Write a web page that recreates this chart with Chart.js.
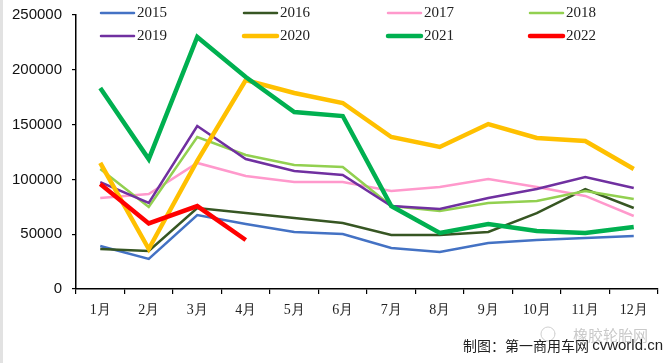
<!DOCTYPE html>
<html>
<head>
<meta charset="utf-8">
<script src="https://cdn.jsdelivr.net/npm/chart.js@4/dist/chart.umd.min.js"></script>
<style>
html,body{margin:0;padding:0;background:#fff;}
#wrap{width:672px;height:363px;position:relative;}
</style>
</head>
<body>
<div id="wrap"><canvas id="c" width="672" height="363"></canvas></div>
<script>
const months = ['1月','2月','3月','4月','5月','6月','7月','8月','9月','10月','11月','12月'];
const yTicks = [0, 50000, 100000, 150000, 200000, 250000];
const s2015 = [39200, 27400, 67500, 59300, 52000, 50200, 37400, 33800, 42000, 44700, 46500, 48400];
const s2016 = [36500, 34700, 73900, 69300, 64800, 60200, 49300, 49300, 52000, 69300, 91200, 73900];
const s2017 = [83000, 86700, 115000, 103100, 97600, 97600, 89400, 93100, 100400, 93100, 84900, 66600];
const s2018 = [109500, 74800, 138700, 122300, 113100, 111300, 75700, 71200, 78500, 80300, 89400, 82100];
const s2019 = [97600, 78500, 148700, 118600, 107700, 104000, 75700, 73000, 83000, 91200, 102200, 92200];
const s2020 = [115000, 36500, 117000, 190700, 178800, 169700, 138700, 129600, 150500, 137800, 135000, 109500];
const s2021 = [183400, 118500, 229900, 193400, 161500, 157800, 75700, 51100, 59300, 52900, 51100, 56600];
const s2022 = [95800, 59800, 75700, 44700];
const seriesNames = ['2015','2016','2017','2018','2019','2020','2021','2022'];
const seriesData = [s2015, s2016, s2017, s2018, s2019, s2020, s2021, s2022];
const seriesColors = ['#4472C4','#375623','#FF99CC','#92D050','#7030A0','#FFC000','#00B050','#FF0000'];
const seriesWidths = [2.5, 2.5, 2.5, 2.5, 2.5, 4.5, 4.5, 4.5];

const datasets = seriesNames.map((n, i) => ({
  label: n,
  data: seriesData[i],
  borderColor: seriesColors[i],
  backgroundColor: seriesColors[i],
  borderWidth: seriesWidths[i],
  pointRadius: 0,
  tension: 0,
  fill: false,
  order: seriesNames.length - i
}));

const customLegend = {
  id: 'customLegend',
  afterDraw(chart) {
    const ctx = chart.ctx;
    const colX = [100, 243, 387, 529];
    const rowY = [13, 36];
    ctx.save();
    chart.data.datasets.forEach((ds, i) => {
      const col = i % 4, row = Math.floor(i / 4);
      const x = colX[col], y = rowY[row];
      ctx.strokeStyle = ds.borderColor;
      ctx.lineWidth = ds.borderWidth;
      ctx.lineCap = 'round';
      ctx.beginPath();
      ctx.moveTo(x + 1, y);
      ctx.lineTo(x + 34, y);
      ctx.stroke();
      ctx.fillStyle = '#222';
      ctx.font = '15px "Liberation Serif"';
      ctx.textBaseline = 'middle';
      ctx.textAlign = 'left';
      ctx.fillText(ds.label, x + 37, y + 0.5);
    });
    ctx.textAlign = 'left';
    ctx.fillStyle = '#c9c9c9';
    ctx.font = '15px "Noto Sans CJK SC"';
    ctx.fillText('橡胶轮胎网', 573, 335);
    ctx.strokeStyle = '#d0d0d0';
    ctx.lineWidth = 1;
    ctx.beginPath();
    ctx.arc(548, 334, 7, 0, Math.PI * 2);
    ctx.stroke();
    ctx.fillStyle = '#222';
    ctx.textAlign = 'right';
    ctx.font = '15px "Liberation Sans"';
    const t2 = 'cvworld.cn';
    ctx.fillText(t2, 663, 346);
    const w2 = ctx.measureText(t2).width;
    ctx.font = '14px "Noto Sans CJK SC"';
    ctx.fillText('制图：第一商用车网 ', 663 - w2, 346);
    ctx.restore();
  },
  beforeDraw(chart) {
    const ctx = chart.ctx;
    ctx.save();
    ctx.fillStyle = '#fff';
    ctx.fillRect(0, 0, chart.width, chart.height);
    ctx.fillStyle = '#e2e2e2';
    ctx.fillRect(0, 0, 3, chart.height);
    ctx.restore();
  }
};

new Chart(document.getElementById('c'), {
  type: 'line',
  data: { labels: months, datasets },
  plugins: [customLegend],
  options: {
    responsive: false,
    animation: false,
    layout: { padding: { top: 15, right: 14, left: 0, bottom: 0 } },
    plugins: { legend: { display: false }, tooltip: { enabled: false } },
    scales: {
      x: {
        type: 'category',
        offset: true,
        grid: { display: true, drawOnChartArea: false, drawTicks: true, tickLength: 5, color: '#000', lineWidth: 1.2, offset: true },
        border: { color: '#000', width: 1.5 },
        ticks: { color: '#222', font: { family: 'Liberation Serif', size: 14 }, padding: 8, maxRotation: 0, autoSkip: false },
        afterFit: s => { s.height = 74; s.paddingLeft = 0; s.paddingRight = 0; }
      },
      y: {
        min: 0,
        max: 250000,
        afterBuildTicks: s => { s.ticks = yTicks.map(v => ({ value: v })); },
        grid: { display: true, drawOnChartArea: false, drawTicks: true, tickLength: 4, color: '#000', lineWidth: 1.2 },
        border: { color: '#000', width: 1.5 },
        ticks: { color: '#111', font: { family: 'Liberation Sans', size: 15 }, padding: 10, callback: v => String(v) },
        afterFit: s => { s.width = 76; s.paddingTop = 0; s.paddingBottom = 0; }
      }
    }
  }
});
</script>
</body>
</html>
